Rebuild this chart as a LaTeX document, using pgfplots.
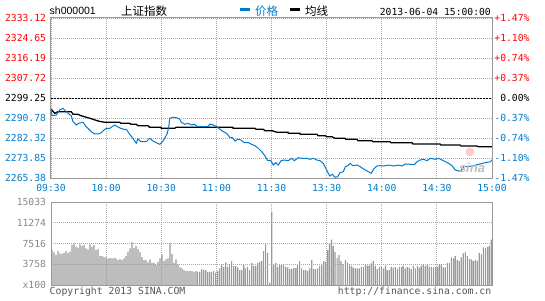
\documentclass[border=0pt]{standalone}
\usepackage{pgfplots}
\pgfplotsset{compat=1.18}
\usepackage{pgfplotstable}
\usepackage{fontspec}
\setmainfont{Liberation Sans}
\newfontfamily\mono{DejaVu Sans Mono}
\newfontfamily\cjk{Noto Sans CJK SC}
\definecolor{sblue}{RGB}{0,122,204}
\definecolor{sred}{RGB}{255,0,0}
\definecolor{framec}{RGB}{153,153,153}
\definecolor{gridc}{RGB}{170,170,170}
\definecolor{barc}{RGB}{153,153,153}
\definecolor{vlab}{RGB}{136,136,136}
\definecolor{copyc}{RGB}{85,85,85}

\pgfplotstableread{
m v
0.5 6314
1.6 5900
2.7 5412
3.8 6134
4.9 5720
6.0 5592
7.1 5830
8.2 6130
9.3 5830
10.3 6000
11.4 7216
12.5 7520
13.6 6900
14.7 6730
15.8 7340
16.9 7035
18.0 7216
19.0 6620
20.1 6440
21.2 7340
22.3 6900
23.4 7216
24.5 6314
25.6 6494
26.7 5290
27.8 5230
28.8 5110
29.9 4990
31.0 4810
32.1 4930
33.2 4810
34.3 4930
35.4 4810
36.5 4510
37.5 4690
38.6 4510
39.7 4810
40.8 5230
41.9 6000
43.0 6620
44.1 7810
45.2 6730
46.3 7035
47.3 6494
48.4 6000
49.5 5110
50.6 4510
51.7 4510
52.8 4090
53.9 4630
55.0 4030
56.0 4030
57.1 3608
58.2 4210
59.3 4810
60.4 5530
61.5 4330
62.6 4630
63.7 4810
64.8 7630
65.8 5590
66.9 4030
68.0 4630
69.1 3730
70.2 3190
71.3 3010
72.4 2706
73.5 2580
74.6 2520
75.6 2580
76.7 2520
77.8 2400
78.9 2520
79.8 2400
80.9 2400
82.0 2886
83.1 2706
84.2 2706
85.3 2400
86.4 2400
87.4 2400
88.5 2526
89.6 2220
90.7 2526
91.8 3010
92.9 3730
94.0 3300
95.1 4090
96.2 3300
97.2 3790
98.3 4330
99.4 3430
100.5 3430
101.6 3190
102.7 2706
103.8 2706
104.9 3608
105.9 3010
107.0 3300
108.1 2706
109.2 4030
110.3 3430
111.4 3430
112.5 4030
113.6 4210
114.7 4330
115.7 6130
116.8 7400
117.9 5830
119.0 420
120.1 13220
121.2 3608
122.3 4030
123.4 3300
124.5 3608
125.5 3608
126.6 3730
127.7 3300
128.8 3190
129.9 2886
131.0 2886
132.1 3070
133.2 3070
134.2 3608
135.3 4330
136.4 3010
137.5 2706
138.6 2706
139.7 2526
140.8 3010
141.9 4510
143.0 2886
144.0 2886
145.1 3010
146.2 3430
147.3 3608
148.4 4330
149.5 4210
150.6 6314
151.6 7520
152.6 8240
153.6 7035
154.6 6010
155.7 4930
156.7 5412
157.8 4330
158.9 3790
160.2 4510
161.3 4090
162.4 3730
163.5 3430
164.5 3130
165.6 3010
166.7 3010
167.8 3010
168.9 3300
170.0 3300
171.1 3608
172.2 3490
173.2 3490
174.3 3910
175.4 4330
176.5 3430
177.6 2886
178.7 3300
179.8 3300
180.9 3010
182.0 3490
183.0 2706
184.1 2706
185.2 3300
186.3 3130
187.4 3300
188.5 2886
189.6 3300
190.7 3300
191.7 3490
192.8 3010
193.9 3300
195.0 3130
196.1 2886
197.2 3430
198.3 3010
199.4 3430
200.5 3130
201.5 3490
202.6 3730
203.7 3430
204.8 3608
205.9 3300
207.0 3300
208.1 3190
209.2 3300
210.3 3300
211.3 3730
212.4 3730
213.5 3190
214.6 3190
215.7 4030
216.8 4030
217.9 5000
219.0 4810
220.0 5230
221.1 4510
222.2 4330
223.3 5000
224.4 5720
225.5 6000
226.6 5230
227.7 4690
228.8 4630
229.8 4330
230.9 4510
232.0 4390
233.1 5830
234.2 5530
235.3 6800
236.4 6730
237.5 6900
238.5 7035
239.6 8240
}\voltable

\begin{document}
\begin{tikzpicture}
\path[use as bounding box] (0pt,0pt) rectangle (545pt,300pt);

% ---------- price panel ----------
\begin{axis}[
  at={(51pt,122pt)}, anchor=south west, scale only axis,
  width=441pt, height=160pt,
  xmin=0, xmax=240, ymin=2265.38, ymax=2333.12,
  xtick={0,30,...,240},
  xticklabels={09:30,10:00,10:30,11:00,11:30,13:30,14:00,14:30,15:00},
  ytick={2265.38,2273.85,2282.32,2290.78,2299.25,2307.72,2316.19,2324.65,2333.12},
  yticklabels={\textcolor{sblue}{2265.38},\textcolor{sblue}{2273.85},\textcolor{sblue}{2282.32},\textcolor{sblue}{2290.78},\textcolor{black}{2299.25},\textcolor{sred}{2307.72},\textcolor{sred}{2316.19},\textcolor{sred}{2324.65},\textcolor{sred}{2333.12}},
  major tick length=0pt,
  grid=major,
  grid style={gridc, dash pattern=on 1pt off 1pt, line width=0.8pt},
  axis line style={framec, line width=1pt},
  ticklabel style={font=\mono\fontsize{9.7}{10}\selectfont},
  xticklabel style={text=sblue, yshift=-3pt},
  yticklabel style={xshift=-1.5pt},
  clip=true,
]
\addplot[black, line width=0.9pt, dash pattern=on 2pt off 1pt] coordinates {(0,2299.25) (240,2299.25)};
\addplot[black, line width=1.3pt] coordinates {
(0,2294.59) (2,2292.77) (3.8,2293.45) (11,2293.45) (12,2292.35) (14.7,2292.35) (16.3,2291.76) (20.1,2290.91) (22.9,2290.23) (25.6,2289.51) (29.2,2288.96) (37.4,2288.96) (38.1,2288.54) (42.8,2288.54) (43.5,2288.12) (46.4,2288.12) (47.3,2287.52) (52.8,2287.52) (53.7,2286.85) (59.9,2286.85) (60,2286.42) (67.3,2286.42) (68.2,2286.85) (99,2286.85) (99.1,2286.42) (111,2286.42) (111.6,2286.00) (115.5,2286.00) (116.5,2285.41) (120.3,2285.41) (123,2284.73) (129,2284.73) (129.1,2284.30) (135.5,2284.30) (135.6,2283.88) (144.8,2283.88) (145.3,2283.29) (149.1,2283.29) (150.2,2282.86) (152.9,2282.86) (154.6,2282.19) (160,2282.19) (160.5,2281.76) (166.5,2281.76) (167.1,2281.17) (174.7,2281.17) (175.2,2280.75) (184.5,2280.75) (185,2280.32) (196.5,2280.32) (197,2279.77) (211.7,2279.77) (212.2,2279.35) (222.6,2279.35) (223.1,2278.93) (231.8,2278.93) (232.4,2278.63) (240,2278.63)
};
\addplot[sblue, line width=1pt] coordinates {
(0,2294.59) (0.5,2291.76) (2.9,2292.05) (4.7,2294.17) (6.5,2294.89) (7.5,2294.17) (9.3,2292.77) (11.0,2291.76) (12.0,2289.22) (13.8,2287.82) (15.1,2288.54) (17.4,2288.96) (18.7,2287.52) (20.1,2286.42) (21.9,2284.98) (23.8,2284.01) (25.6,2284.01) (27.4,2284.56) (28.8,2285.70) (30.1,2286.42) (31.9,2286.42) (33.2,2287.10) (34.7,2287.82) (36.1,2287.10) (37.9,2286.42) (39.7,2286.00) (41.0,2286.00) (42.8,2283.88) (44.6,2282.19) (46.4,2280.07) (47.3,2281.89) (49.1,2280.75) (51.9,2280.75) (53.7,2282.19) (55.5,2281.05) (57.3,2280.32) (59.2,2279.65) (60.4,2280.49) (61.9,2282.19) (63.3,2284.30) (64.1,2287.10) (64.6,2290.66) (66.4,2291.08) (68.2,2290.91) (70.0,2290.36) (70.9,2288.96) (72.8,2288.12) (74.6,2288.54) (76.4,2287.82) (78.2,2288.12) (79.5,2287.10) (82.9,2287.10) (85.6,2287.27) (86.5,2288.24) (88.3,2287.82) (90.2,2287.10) (92.0,2286.00) (93.8,2284.98) (95.6,2284.30) (97.4,2282.44) (98.7,2282.44) (100.1,2281.04) (101.6,2281.76) (103.4,2281.47) (105.2,2280.32) (107.4,2280.32) (109.2,2279.65) (111.0,2279.05) (112.8,2277.95) (114.7,2276.51) (116.5,2274.69) (117.9,2272.70) (119.7,2272.70) (121.0,2270.88) (122.3,2271.86) (123.7,2270.88) (125.2,2272.70) (127.0,2273.00) (129.1,2272.70) (131.0,2273.72) (132.4,2272.70) (134.6,2273.97) (136.4,2273.72) (139.2,2273.72) (141.0,2273.30) (142.7,2273.72) (144.6,2273.00) (146.4,2272.70) (148.2,2271.60) (149.5,2269.49) (150.9,2267.37) (151.8,2266.23) (153.1,2266.95) (154.6,2265.68) (156.0,2265.93) (157.3,2267.62) (159.1,2268.05) (160.2,2270.16) (161.6,2270.59) (162.9,2271.60) (164.2,2270.59) (166.5,2270.88) (168.3,2270.16) (170.2,2269.19) (172.0,2268.34) (174.3,2267.37) (175.6,2269.19) (177.4,2270.46) (179.2,2270.59) (181.1,2270.46) (183.8,2270.88) (186.5,2270.46) (189.2,2270.88) (191.0,2270.46) (192.8,2271.31) (195.5,2271.18) (197.9,2271.18) (199.2,2272.28) (201.0,2273.00) (202.8,2273.30) (204.6,2272.70) (206.4,2273.72) (209.1,2273.30) (211.0,2273.72) (212.8,2273.00) (214.6,2272.28) (216.4,2271.60) (218.2,2270.59) (220.0,2268.77) (221.9,2268.34) (223.1,2268.34) (224.6,2270.16) (226.4,2270.16) (229.1,2270.46) (232.8,2271.18) (236.4,2271.86) (239.1,2272.28) (240,2273.00)
};
\end{axis}

% ---------- right percentage scale ----------
\begin{axis}[
  at={(51pt,122pt)}, anchor=south west, scale only axis,
  width=441pt, height=160pt,
  xmin=0, xmax=240, ymin=2265.38, ymax=2333.12,
  axis x line=none, axis y line*=right,
  y axis line style={framec, line width=1pt},
  major tick length=0pt,
  ytick={2265.38,2273.85,2282.32,2290.78,2299.25,2307.72,2316.19,2324.65,2333.12},
  yticklabels={\textcolor{sblue}{-1.47\%},\textcolor{sblue}{-1.10\%},\textcolor{sblue}{-0.74\%},\textcolor{sblue}{-0.37\%},\textcolor{black}{0.00\%},\textcolor{sred}{+0.37\%},\textcolor{sred}{+0.74\%},\textcolor{sred}{+1.10\%},\textcolor{sred}{+1.47\%}},
  yticklabel style={font=\mono\fontsize{9.7}{10}\selectfont, anchor=east, xshift=41pt},
]
\addplot[draw=none] coordinates {(0,2299.25)};
\end{axis}

% ---------- volume panel ----------
\begin{axis}[
  at={(51pt,15pt)}, anchor=south west, scale only axis,
  width=441pt, height=83pt,
  xmin=0, xmax=240, ymin=0, ymax=15033,
  xtick={0,30,...,240}, xticklabels={},
  ytick={0,3758,7516,11274,15033},
  yticklabels={x100,3758,7516,11274,15033},
  scaled y ticks=false,
  major tick length=0pt,
  grid=major,
  grid style={gridc, dash pattern=on 1pt off 1pt, line width=0.8pt},
  axis line style={framec, line width=1pt},
  yticklabel style={font=\mono\fontsize{9.7}{10}\selectfont, text=vlab, xshift=-1.5pt},
  ybar, bar width=1.2pt, bar shift=0pt,
]
\addplot[fill=barc, draw=none] table[x=m, y=v] {\voltable};
\end{axis}

% ---------- header ----------
\node[anchor=west, inner sep=0pt, font=\fontsize{10.5}{12}\selectfont] at (49.5pt,289pt) {sh000001};
\node[anchor=center, inner sep=0pt, font=\cjk\fontsize{11.5}{13}\selectfont] at (144pt,289pt) {上证指数};
\draw[sblue, line width=3pt] (240pt,290pt) -- (250pt,290pt);
\node[anchor=west, inner sep=0pt, text=sblue, font=\cjk\fontsize{11.5}{13}\selectfont] at (255pt,289pt) {价格};
\draw[black, line width=3pt] (290pt,290pt) -- (300pt,290pt);
\node[anchor=west, inner sep=0pt, font=\cjk\fontsize{11.5}{13}\selectfont] at (305pt,289pt) {均线};
\node[anchor=east, inner sep=0pt, font=\mono\fontsize{9.7}{10}\selectfont] at (491pt,288.5pt) {2013-06-04 15:00:00};

% ---------- watermark ----------
\node[anchor=center, inner sep=0pt, text=black!25, font=\bfseries\itshape\fontsize{13}{14}\selectfont] at (472pt,132pt) {sina};
\fill[red!20] (470pt,148pt) circle (4.5pt);

% ---------- footer ----------
\node[anchor=west, inner sep=0pt, text=copyc, font=\mono\fontsize{9.8}{10}\selectfont] at (49.5pt,8.5pt) {Copyright 2013 SINA.COM};
\node[anchor=east, inner sep=0pt, text=copyc, font=\mono\fontsize{9.8}{10}\selectfont] at (491.5pt,8.5pt) {http://finance.sina.com.cn};
\end{tikzpicture}
\end{document}
